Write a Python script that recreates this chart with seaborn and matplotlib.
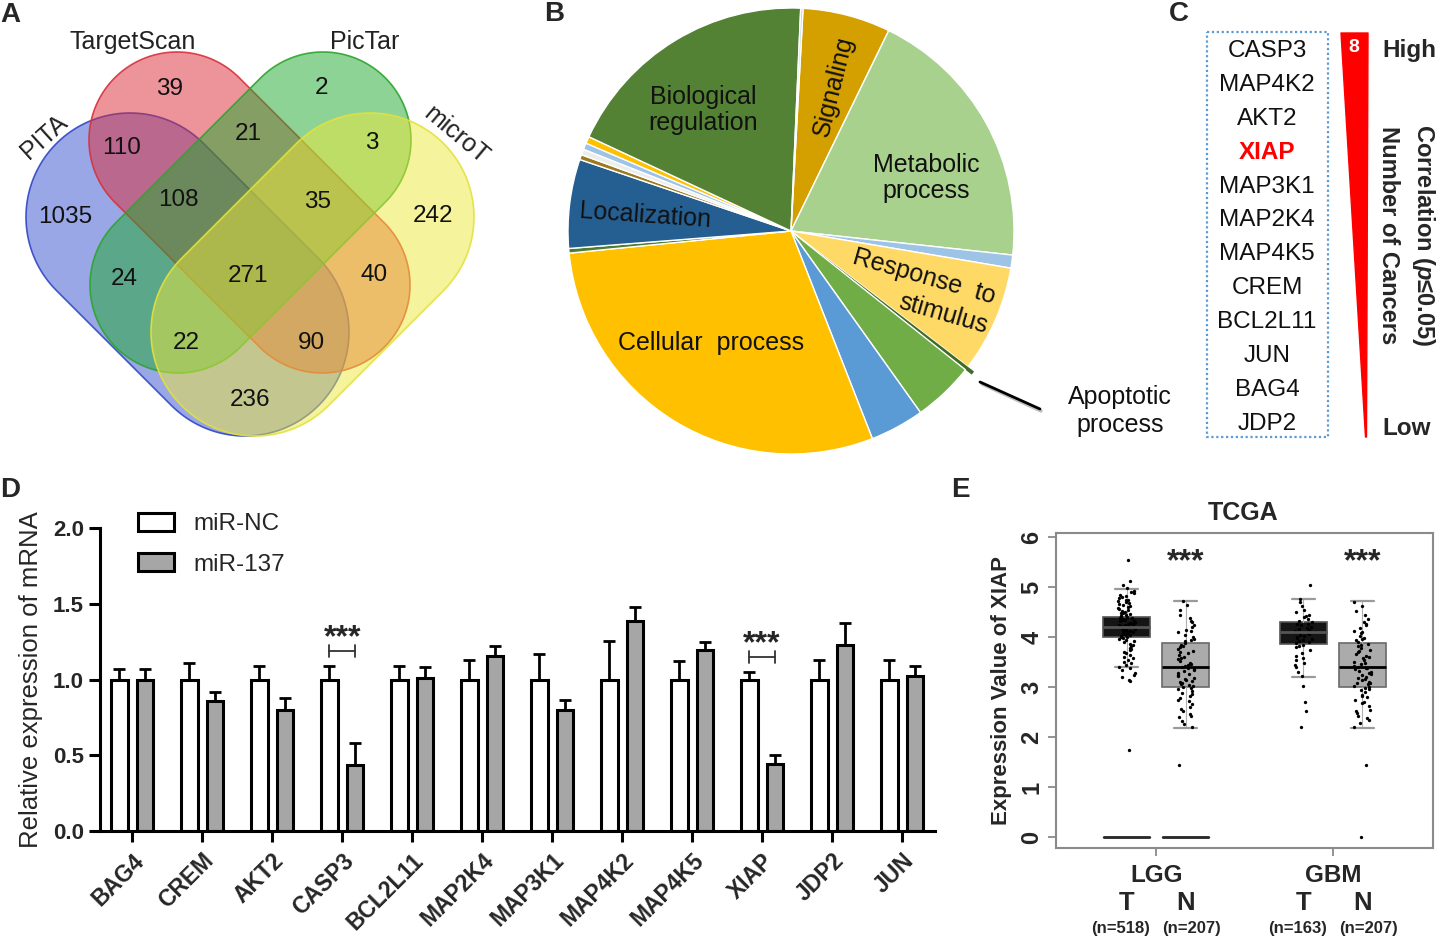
import numpy as np
import pandas as pd
import matplotlib
matplotlib.use("Agg")
import matplotlib.pyplot as plt
import seaborn as sns
from matplotlib.patches import Polygon, Rectangle, Patch
import matplotlib.transforms as mtransforms

# ---------------- data ----------------
# A: Venn
venn_sets = ["PITA", "TargetScan", "PicTar", "microT"]
venn_counts = [39, 2, 110, 21, 3, 1035, 108, 35, 242, 24, 271, 40, 22, 90, 236]

# B: pie (degrees of each slice, clockwise from top)
pie_labels = ["Signaling", "Metabolic process", "other a", "Response to stimulus",
              "Apoptotic process", "other b", "other c", "Cellular process", "other d",
              "Localization", "other e", "other f", "other g", "other h",
              "Biological regulation", "other i"]
pie_sizes = [22.9, 70.2, 3.4, 27.9, 1.0, 16.0, 14.1, 105.7, 1.2, 23.2, 1.3, 1.5, 1.7, 1.8, 67.5, 0.6]

# C: ranked genes
c_genes = ["CASP3", "MAP4K2", "AKT2", "XIAP", "MAP3K1", "MAP2K4", "MAP4K5",
           "CREM", "BCL2L11", "JUN", "BAG4", "JDP2"]
c_top_count = "8"

# D: bar chart
d_genes = ["BAG4", "CREM", "AKT2", "CASP3", "BCL2L11", "MAP2K4", "MAP3K1",
           "MAP4K2", "MAP4K5", "XIAP", "JDP2", "JUN"]
d_groups = ["miR-NC", "miR-137"]
nc_mean = [1.0, 1.0, 1.0, 1.0, 1.0, 1.0, 1.0, 1.0, 1.0, 1.0, 1.0, 1.0]
nc_sd = [0.07, 0.11, 0.09, 0.09, 0.09, 0.13, 0.17, 0.255, 0.12, 0.05, 0.13, 0.13]
mir_mean = [1.0, 0.855, 0.80, 0.435, 1.01, 1.155, 0.80, 1.385, 1.195, 0.44, 1.225, 1.025]
mir_sd = [0.07, 0.06, 0.08, 0.145, 0.07, 0.065, 0.065, 0.095, 0.055, 0.06, 0.145, 0.065]
d_sig = {"CASP3": "***", "XIAP": "***"}

# E: TCGA boxplots
e_groups = ["LGG T", "LGG N", "GBM T", "GBM N"]
e_med = [4.20, 3.40, 4.10, 3.40]
e_q1 = [4.00, 3.00, 3.86, 3.00]
e_q3 = [4.41, 3.89, 4.31, 3.89]
e_lo = [3.40, 2.19, 3.21, 2.19]
e_hi = [4.96, 4.73, 4.77, 4.73]
e_n = ["(n=518)", "(n=207)", "(n=163)", "(n=207)"]
e_zero_groups = ["LGG T", "LGG N"]
lgg_t_pts = [5.55, 5.12, 5.05, 4.98, 4.92, 4.88, 4.85, 4.80, 4.78, 4.75, 4.72, 4.70, 4.68,
             4.65, 4.62, 4.60, 4.58, 4.55, 4.53, 4.50, 4.48, 4.46, 4.44, 4.42, 4.40, 4.39,
             4.37, 4.35, 4.34, 4.32, 4.30, 4.29, 4.28, 4.26, 4.25, 4.24, 4.22, 4.21, 4.20,
             4.19, 4.18, 4.16, 4.15, 4.14, 4.12, 4.11, 4.10, 4.08, 4.06, 4.05, 4.03, 4.01,
             4.00, 3.97, 3.94, 3.90, 3.86, 3.82, 3.78, 3.74, 3.70, 3.65, 3.60, 3.55, 3.50,
             3.45, 3.40, 3.35, 3.28, 3.20, 3.12, 1.75,
             4.90, 4.83, 4.74, 4.66, 4.57, 4.49, 4.43, 4.38, 4.33, 4.27, 4.23, 4.17, 4.13,
             4.09, 4.04, 3.99, 3.92, 3.84, 3.76, 3.68, 3.58, 3.48, 3.38, 3.25, 3.15]
lgg_n_pts = [4.72, 4.65, 4.55, 4.45, 4.38, 4.32, 4.25, 4.20, 4.15, 4.10, 4.05, 4.00, 3.95,
             3.92, 3.88, 3.85, 3.80, 3.76, 3.72, 3.68, 3.64, 3.60, 3.56, 3.52, 3.48, 3.45,
             3.42, 3.40, 3.38, 3.35, 3.32, 3.28, 3.25, 3.22, 3.18, 3.15, 3.12, 3.10, 3.07,
             3.05, 3.02, 3.00, 2.96, 2.92, 2.88, 2.83, 2.78, 2.72, 2.66, 2.60, 2.53, 2.46,
             2.40, 2.33, 2.26, 2.20, 1.45,
             4.30, 4.12, 3.97, 3.83, 3.70, 3.58, 3.47, 3.36, 3.27, 3.17, 3.08, 2.98, 2.86,
             2.74, 2.57, 2.43]
gbm_t_pts = [5.05, 4.76, 4.70, 4.62, 4.55, 4.50, 4.45, 4.40, 4.36, 4.32, 4.30, 4.27, 4.24,
             4.21, 4.18, 4.15, 4.12, 4.10, 4.08, 4.05, 4.02, 4.00, 3.97, 3.94, 3.91, 3.88,
             3.85, 3.80, 3.74, 3.68, 3.62, 3.55, 3.48, 3.40, 3.30, 3.22, 3.02, 2.70, 2.52, 2.20,
             4.42, 4.26, 4.16, 4.07, 3.99, 3.92, 3.83, 3.58, 3.45]
gbm_n_pts = [4.70, 4.62, 4.52, 4.44, 4.36, 4.30, 4.24, 4.18, 4.13, 4.08, 4.03, 3.98, 3.94,
             3.90, 3.86, 3.82, 3.78, 3.74, 3.70, 3.66, 3.62, 3.58, 3.54, 3.50, 3.46, 3.43,
             3.41, 3.39, 3.36, 3.33, 3.30, 3.27, 3.24, 3.20, 3.17, 3.14, 3.11, 3.08, 3.06,
             3.03, 3.01, 2.98, 2.94, 2.90, 2.85, 2.80, 2.74, 2.68, 2.62, 2.55, 2.48, 2.42,
             2.35, 2.28, 2.21, 1.45, 0.0,
             4.27, 4.11, 3.96, 3.84, 3.72, 3.60, 3.48, 3.38, 3.29, 3.19, 3.09, 2.96, 2.83,
             2.70, 2.52, 2.38]

# ---------------- style ----------------
sns.set_style("ticks")
plt.rcParams['font.family'] = ['Liberation Sans', 'DejaVu Sans']
plt.rcParams['mathtext.fontset'] = 'custom'
plt.rcParams['mathtext.it'] = 'Liberation Sans:italic:bold'
plt.rcParams['mathtext.rm'] = 'Liberation Sans:bold'
plt.rcParams['mathtext.bf'] = 'Liberation Sans:bold'

W, H = 1438, 936
fig = plt.figure(figsize=(W / 100, H / 100), dpi=100)


def px_axes(x0, y0, x1, y1):
    return fig.add_axes([x0 / W, 1 - y1 / H, (x1 - x0) / W, (y1 - y0) / H])


def ftext(x, y, s, **kw):
    return fig.text(x / W, 1 - y / H, s, **kw)


def capsule(c1, c2, r, n=80):
    c1 = np.array(c1, float)
    c2 = np.array(c2, float)
    d = c2 - c1
    th = np.arctan2(d[1], d[0])
    a1 = np.linspace(th - np.pi / 2, th + np.pi / 2, n)
    a2 = np.linspace(th + np.pi / 2, th + 3 * np.pi / 2, n)
    p2 = c2 + r * np.c_[np.cos(a1), np.sin(a1)]
    p1 = c1 + r * np.c_[np.cos(a2), np.sin(a2)]
    return np.vstack([p2, p1])


# ---------------- panel A ----------------
axA = px_axes(0, 0, 520, 450)
axA.set_xlim(0, 520)
axA.set_ylim(450, 0)
axA.axis('off')
venn_fill = ["#3550CF", "#DC2A36", "#1FA82E", "#EDE83A"]
venn_edge = ["#3047C6", "#D8323C", "#2CA52C", "#E2E23C"]
venn_geom = [((130, 217), (245, 332), 104), ((177, 140), (322, 285), 88),
             ((323, 140), (178, 285), 88), ((370, 217), (255, 332), 104)]
for (c1, c2, r), fc, ec in zip(venn_geom, venn_fill, venn_edge):
    pts = capsule(c1, c2, r)
    axA.add_patch(Polygon(pts, closed=True, facecolor=fc, alpha=0.5, edgecolor='none'))
    axA.add_patch(Polygon(pts, closed=True, facecolor='none', edgecolor=ec, lw=1.2, alpha=0.9))
venn_pos = [(170, 89), (322, 88), (122, 148), (248, 134), (372, 143), (65, 217), (178, 200),
            (318, 202), (433, 216), (124, 279), (248, 276), (374, 275), (186, 343), (311, 343),
            (250, 400)]
for cnt, (x, y) in zip(venn_counts, venn_pos):
    axA.text(x, y, str(cnt), ha='center', va='center', fontsize=17.5, color='#111111')
venn_name_pos = [(44, 137, 42), (133, 42, 0), (365, 42, 0), (456, 135, -40)]
for name, (x, y, rot) in zip(venn_sets, venn_name_pos):
    axA.text(x, y, name, ha='center', va='center', fontsize=18, rotation=rot, color='#222222')

# ---------------- panel B ----------------
axB = px_axes(560, 0, 1022, 462)
pie_colors = ["#D4A000", "#A9D18E", "#9DC3E6", "#FFD966", "#3E6B25", "#70AD47", "#5B9BD5",
              "#FFC000", "#4E7D30", "#255E91", "#9C7A1E", "#EDEDED", "#9DC3E6", "#FFC000",
              "#548235", "#BDD7EE"]
explode = [0.035 if lab == "Apoptotic process" else 0 for lab in pie_labels]
wedges, _ = axB.pie(pie_sizes, colors=pie_colors, startangle=86.9, counterclock=False,
                    explode=explode, radius=1,
                    wedgeprops=dict(edgecolor='white', linewidth=1.0))
for w, lab in zip(wedges, pie_labels):
    if lab == "Apoptotic process":
        w.set_edgecolor('none')
lim = 231 / 223
axB.set_xlim(-lim, lim)
axB.set_ylim(-lim, lim)
axB.set_aspect('equal')


def pxy(px, py):
    return ((px - 791) / 223, (231 - py) / 223)


pie_text = [("Biological\nregulation", 703, 110, 0), ("Signaling", 834, 86, 76),
            ("Metabolic\nprocess", 926, 178, 0), ("Localization", 645, 216, -4),
            ("Response  to", 924, 277, -16), ("stimulus", 943, 314, -16),
            ("Cellular  process", 711, 343, 0)]
for s, x, y, rot in pie_text:
    axB.text(*pxy(x, y), s, ha='center', va='center', fontsize=18, rotation=rot,
             color='#111111', linespacing=1.15)
# leader line for apoptotic process
axB.plot(*zip(pxy(982, 384), pxy(1041, 411)), color='#999999', lw=2.5, alpha=0.6,
         solid_capstyle='round', clip_on=False)
axB.plot(*zip(pxy(980, 382), pxy(1040, 409)), color='black', lw=2.0, clip_on=False)
ftext(1120, 411, "Apoptotic\nprocess", ha='center', va='center', fontsize=18,
      color='#111111', linespacing=1.2)

# ---------------- panel C ----------------
axC = px_axes(1160, 0, 1438, 450)
axC.set_xlim(1160, 1438)
axC.set_ylim(450, 0)
axC.axis('off')
axC.add_patch(Rectangle((1207, 32), 121, 405, facecolor='none', edgecolor='#5B9BD5',
                        lw=1.6, linestyle=(0, (1, 1.2))))
for i, g in enumerate(c_genes):
    y = 51 + i * 33.9
    if g == "XIAP":
        axC.text(1267, y, g, ha='center', va='center', fontsize=17.5, color='#FF0000',
                 fontweight='bold')
    else:
        axC.text(1267, y, g, ha='center', va='center', fontsize=17.5, color='#111111')
axC.add_patch(Polygon([(1341, 33), (1368, 33), (1366.5, 437), (1365.5, 437)], closed=True,
                      facecolor='#FF0000', edgecolor='#FF0000', lw=1, joinstyle='round'))
axC.text(1354, 48, c_top_count, ha='center', va='center', fontsize=14, color='white',
         fontweight='bold')
axC.text(1382, 51, "High", ha='left', va='center', fontsize=17.5, fontweight='bold')
axC.text(1382, 428, "Low", ha='left', va='center', fontsize=17.5, fontweight='bold')
axC.text(1423, 235, r"Correlation ($\mathit{p}$≤0.05)", ha='center', va='center',
         rotation=-90, fontsize=17, fontweight='bold')
axC.text(1388, 235, "Number of Cancers", ha='center', va='center', rotation=-90,
         fontsize=17, fontweight='bold')

# ---------------- panel D ----------------
axD = px_axes(100, 528, 935, 831)
df_d = pd.DataFrame({
    "gene": d_genes * 2,
    "group": [d_groups[0]] * len(d_genes) + [d_groups[1]] * len(d_genes),
    "value": nc_mean + mir_mean,
})
sns.barplot(data=df_d, x="gene", y="value", hue="group", order=d_genes, hue_order=d_groups,
            palette={"miR-NC": "white", "miR-137": "#A6A6A6"}, edgecolor='black',
            linewidth=2.2, width=0.73, gap=0.36, errorbar=None, legend=False, ax=axD)
centers = {}
for cont, means, sds, grp in zip(axD.containers, [nc_mean, mir_mean], [nc_sd, mir_sd], d_groups):
    xs = [p.get_x() + p.get_width() / 2 for p in cont.patches]
    centers[grp] = xs
    axD.errorbar(xs, means, yerr=[np.zeros(len(sds)), sds], fmt='none', ecolor='black',
                 elinewidth=2.0, capsize=4.5, capthick=2.0, zorder=1)
for g, star in d_sig.items():
    i = d_genes.index(g)
    x0, x1 = centers["miR-NC"][i], centers["miR-137"][i]
    ybr = max(nc_mean[i] + nc_sd[i], mir_mean[i] + mir_sd[i]) + 0.10
    axD.plot([x0, x1], [ybr, ybr], color='#333333', lw=1.3)
    axD.plot([x0, x0], [ybr - 0.04, ybr + 0.04], color='#333333', lw=1.3)
    axD.plot([x1, x1], [ybr - 0.04, ybr + 0.04], color='#333333', lw=1.3)
    axD.text((x0 + x1) / 2, ybr + 0.085, star, ha='center', va='center', fontsize=23,
             fontweight='bold')
axD.set_ylim(0, 2.0)
axD.set_xlim(-0.46, 11.47)
axD.set_yticks([0, 0.5, 1.0, 1.5, 2.0])
axD.set_yticklabels(["0.0", "0.5", "1.0", "1.5", "2.0"], fontweight='bold', fontsize=16)
axD.set_xticks(range(len(d_genes)))
axD.set_xticklabels(d_genes, rotation=45, ha='right', rotation_mode='anchor',
                    fontweight='bold', fontsize=16.5)
axD.tick_params(axis='both', width=2.2, length=8, direction='out', color='black')
axD.tick_params(axis='x', pad=5)
for sp in ['top', 'right']:
    axD.spines[sp].set_visible(False)
for sp in ['left', 'bottom']:
    axD.spines[sp].set_linewidth(2.2)
    axD.spines[sp].set_color('black')
axD.set_xlabel("")
axD.set_ylabel("Relative expression of mRNA", fontsize=18.5)
axD.yaxis.set_label_coords(-0.068, 0.5)
handles = [Patch(facecolor='white', edgecolor='black', lw=2.2, label=d_groups[0]),
           Patch(facecolor='#A6A6A6', edgecolor='black', lw=2.2, label=d_groups[1])]
axD.legend(handles=handles, loc='upper left', bbox_to_anchor=(0.045, 1.05), frameon=False,
           fontsize=17.5, handlelength=1.5, handleheight=0.75, handletextpad=0.8,
           labelspacing=0.75, borderpad=0, borderaxespad=0)

# ---------------- panel E ----------------
axE = px_axes(1056, 533, 1433, 848)
e_pos = [0, 1, 3, 4]
stats = [dict(med=m, q1=a, q3=b, whislo=lo, whishi=hi, fliers=[], label=g)
         for g, m, a, b, lo, hi in zip(e_groups, e_med, e_q1, e_q3, e_lo, e_hi)]
bp = axE.bxp(stats, positions=e_pos, widths=0.8, patch_artist=True, showfliers=False,
             capwidths=0.4,
             whiskerprops=dict(color='#b0b0b0', lw=0.8),
             capprops=dict(color='#9a9a9a', lw=1.6),
             medianprops=dict(color='black', lw=2.0, zorder=4),
             boxprops=dict(lw=1.2), manage_ticks=False)
for box, g in zip(bp['boxes'], e_groups):
    if g.endswith("T"):
        box.set_facecolor('#151515')
        box.set_edgecolor('#555555')
    else:
        box.set_facecolor('#ABABAB')
        box.set_edgecolor('#6a6a6a')
for med, g in zip(bp['medians'], e_groups):
    if g.endswith("T"):
        med.set_color('#555555')
zero_stats = [dict(med=0, q1=0, q3=0, whislo=0, whishi=0, fliers=[], label=g)
              for g in e_zero_groups]
axE.bxp(zero_stats, positions=[e_pos[e_groups.index(g)] for g in e_zero_groups], widths=0.8,
        showfliers=False, showcaps=False,
        medianprops=dict(color='#2a2a2a', lw=2.0), boxprops=dict(color='#2a2a2a', lw=1.0),
        whiskerprops=dict(lw=0), manage_ticks=False)
df_e = pd.DataFrame({
    "pos": [e_pos[0]] * len(lgg_t_pts) + [e_pos[1]] * len(lgg_n_pts)
           + [e_pos[2]] * len(gbm_t_pts) + [e_pos[3]] * len(gbm_n_pts),
    "val": lgg_t_pts + lgg_n_pts + gbm_t_pts + gbm_n_pts,
})
np.random.seed(3)
sns.stripplot(data=df_e, x="pos", y="val", native_scale=True, jitter=0.15, color='black',
              size=2.4, linewidth=0, ax=axE, zorder=3)
axE.set_xlim(-1.2, 5.2)
axE.set_ylim(-0.22, 6.08)
axE.set_xlabel("")
axE.set_yticks(range(7))
axE.set_yticklabels([str(v) for v in range(7)], fontweight='bold', fontsize=17, rotation=90,
                    va='center')
axE.set_xticks([0.5, 3.5])
axE.set_xticklabels([])
axE.tick_params(axis='both', color='#808080', width=1.2, length=6, direction='out')
axE.tick_params(axis='y', pad=3)
for sp in axE.spines.values():
    sp.set_visible(True)
    sp.set_color('#8a8a8a')
    sp.set_linewidth(1.5)
axE.set_ylabel("Expression Value of XIAP", fontsize=16, fontweight='bold')
axE.yaxis.set_label_coords(-0.117, 0.5)
trE = mtransforms.blended_transform_factory(axE.transData, axE.transAxes)
for x, lab in zip([0.5, 3.5], ["LGG", "GBM"]):
    axE.text(x, (848 - 875) / 315, lab, transform=trE, ha='center', va='center',
             fontsize=17.5, fontweight='bold')
n_shift = [-0.1, 0.1, -0.1, 0.1]
for x, g, n, dx in zip(e_pos, e_groups, e_n, n_shift):
    axE.text(x, (848 - 903) / 315, g.split()[1], transform=trE, ha='center', va='center',
             fontsize=18.5, fontweight='bold')
    axE.text(x + dx, (848 - 928) / 315, n, transform=trE, ha='center', va='center',
             fontsize=12, fontweight='bold')
for x in [e_pos[1], e_pos[3]]:
    axE.text(x, 5.5, "***", ha='center', va='center', fontsize=23, fontweight='bold')
axE.text((1243 - 1056) / 377, (848 - 513) / 315, "TCGA", transform=axE.transAxes,
         ha='center', va='center', fontsize=18, fontweight='bold')

# ---------------- panel letters ----------------
for s, x, y in [("A", 0, 15), ("B", 544, 14), ("C", 1169, 14), ("D", 0, 490), ("E", 951, 490)]:
    ftext(x, y, s, ha='left', va='center', fontsize=20, fontweight='bold')

fig.savefig("out.png", dpi=100)
